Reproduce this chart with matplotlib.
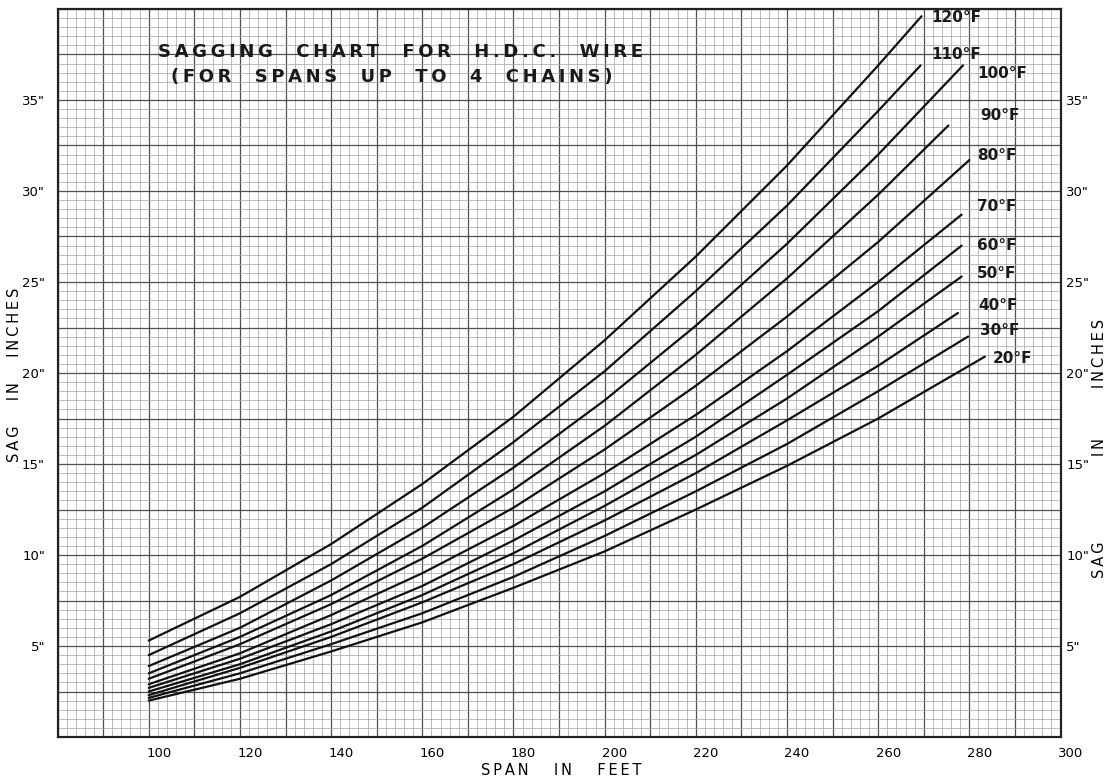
import numpy as np
import matplotlib.pyplot as plt
from matplotlib.ticker import MultipleLocator, FuncFormatter
import matplotlib.transforms as mtransforms

spans = [100, 120, 140, 160, 180, 200, 220, 240, 260]

# Sag (inches) for each temperature, read at the spans above
temps = [120, 110, 100, 90, 80, 70, 60, 50, 40, 30, 20]
sag_120 = [5.3, 7.7, 10.6, 13.9, 17.6, 21.8, 26.4, 31.4, 36.9]
sag_110 = [4.5, 6.8, 9.5, 12.6, 16.2, 20.1, 24.5, 29.2, 34.4]
sag_100 = [3.9, 6.0, 8.6, 11.5, 14.8, 18.5, 22.6, 27.1, 32.0]
sag_90 = [3.5, 5.5, 7.8, 10.5, 13.6, 17.1, 21.0, 25.2, 29.8]
sag_80 = [3.2, 5.1, 7.3, 9.8, 12.6, 15.8, 19.3, 23.1, 27.2]
sag_70 = [2.9, 4.6, 6.7, 9.0, 11.6, 14.5, 17.7, 21.2, 25.0]
sag_60 = [2.7, 4.3, 6.2, 8.3, 10.8, 13.5, 16.5, 19.9, 23.4]
sag_50 = [2.5, 4.0, 5.8, 7.8, 10.1, 12.7, 15.5, 18.6, 22.0]
sag_40 = [2.3, 3.8, 5.5, 7.4, 9.5, 11.9, 14.5, 17.4, 20.4]
sag_30 = [2.15, 3.5, 5.1, 6.8, 8.8, 11.05, 13.5, 16.1, 19.0]
sag_20 = [2.0, 3.2, 4.7, 6.3, 8.2, 10.2, 12.5, 14.9, 17.5]

# where each curve stops (top right)
end_span = [269.5, 269.3, 278.6, 275.4, 280.0, 278.3, 278.3, 278.3, 277.5, 279.7, 283.4]
end_sag = [39.6, 36.9, 36.9, 33.6, 31.7, 28.7, 27.0, 25.3, 23.3, 22.0, 20.9]

series = [sag_120, sag_110, sag_100, sag_90, sag_80, sag_70,
          sag_60, sag_50, sag_40, sag_30, sag_20]

# label nudges in pixels (x, y)
label_off = [(10, -1), (11, 11), (14, -8), (32, 10), (8, 5), (15, 8),
             (15, 0), (15, 3), (20, 7), (12, 6), (8, -2)]


def spaced(s, sep="\u2009"):
    return sep.join(s)


fig = plt.figure(figsize=(11.11, 7.81), dpi=100)
ax = fig.add_axes([0.0518, 0.0563, 0.9028, 0.9322])
ax.set_xlim(80, 300)
ax.set_ylim(0, 40)

# graph paper
ax.xaxis.set_major_locator(MultipleLocator(10))
ax.xaxis.set_minor_locator(MultipleLocator(2))
ax.yaxis.set_major_locator(MultipleLocator(2.5))
ax.yaxis.set_minor_locator(MultipleLocator(0.5))
ax.grid(which="minor", color="#a3a3a3", lw=0.5)
ax.grid(which="major", color="#505050", lw=0.9)
ax.set_axisbelow(True)

ax.xaxis.set_major_formatter(FuncFormatter(
    lambda v, p: f"{int(v)}" if v >= 100 and int(v) % 20 == 0 else ""))
ax.yaxis.set_major_formatter(FuncFormatter(
    lambda v, p: f'{int(v)}"' if 5 <= v <= 35 and v % 5 == 0 else ""))
ax.tick_params(which="both", length=0)
ax.tick_params(axis="x", pad=7, labelsize=9.5)
ax.tick_params(axis="y", pad=9, labelsize=9.5)
off = mtransforms.ScaledTranslation(10 / 100, 0, fig.dpi_scale_trans)
for lab in ax.get_xticklabels():
    lab.set_transform(lab.get_transform() + off)

ax2 = ax.twinx()
ax2.set_ylim(0, 40)
ax2.yaxis.set_major_locator(MultipleLocator(2.5))
ax2.yaxis.set_major_formatter(FuncFormatter(
    lambda v, p: f'{int(v)}"' if 5 <= v <= 35 and v % 5 == 0 else ""))
ax2.tick_params(length=0, pad=4, labelsize=9.5)

for sp in list(ax.spines.values()) + list(ax2.spines.values()):
    sp.set_linewidth(1.5)
    sp.set_color("#222222")

for i, t in enumerate(temps):
    xs = spans + [end_span[i]]
    ys = series[i] + [end_sag[i]]
    ax.plot(xs, ys, color="#111111", lw=1.6, solid_capstyle="round")
    ax.annotate(f"{t}°F", (end_span[i], end_sag[i]), xytext=label_off[i],
                textcoords="offset pixels", ha="left", va="center",
                fontsize=11, fontweight="bold", color="#1a1a1a")

ax.text(0.1, 0.941, spaced("SAGGING  CHART  FOR  H.D.C.  WIRE"),
        transform=ax.transAxes, fontsize=13, fontweight="bold",
        va="center", ha="left", color="#1a1a1a")
ax.text(0.113, 0.906, spaced("(FOR  SPANS  UP  TO  4  CHAINS)"),
        transform=ax.transAxes, fontsize=13, fontweight="bold",
        va="center", ha="left", color="#1a1a1a")

fig.text(0.505, 0.004, spaced("SPAN   IN   FEET"), ha="center", va="bottom",
         fontsize=10.5)
fig.text(0.013, 0.52, spaced("SAG   IN   INCHES"), rotation=90,
         ha="center", va="center", fontsize=10.5)
# right-hand axis title, words spread between the tick labels
fig.text(0.9895, 1 - 560 / 781, spaced("SAG"), rotation=90,
         ha="center", va="center", fontsize=10.5)
fig.text(0.9895, 1 - 447 / 781, spaced("IN"), rotation=90,
         ha="center", va="center", fontsize=10.5)
fig.text(0.9895, 1 - 353 / 781, spaced("INCHES"), rotation=90,
         ha="center", va="center", fontsize=10.5)

fig.savefig("out.png", dpi=100)
